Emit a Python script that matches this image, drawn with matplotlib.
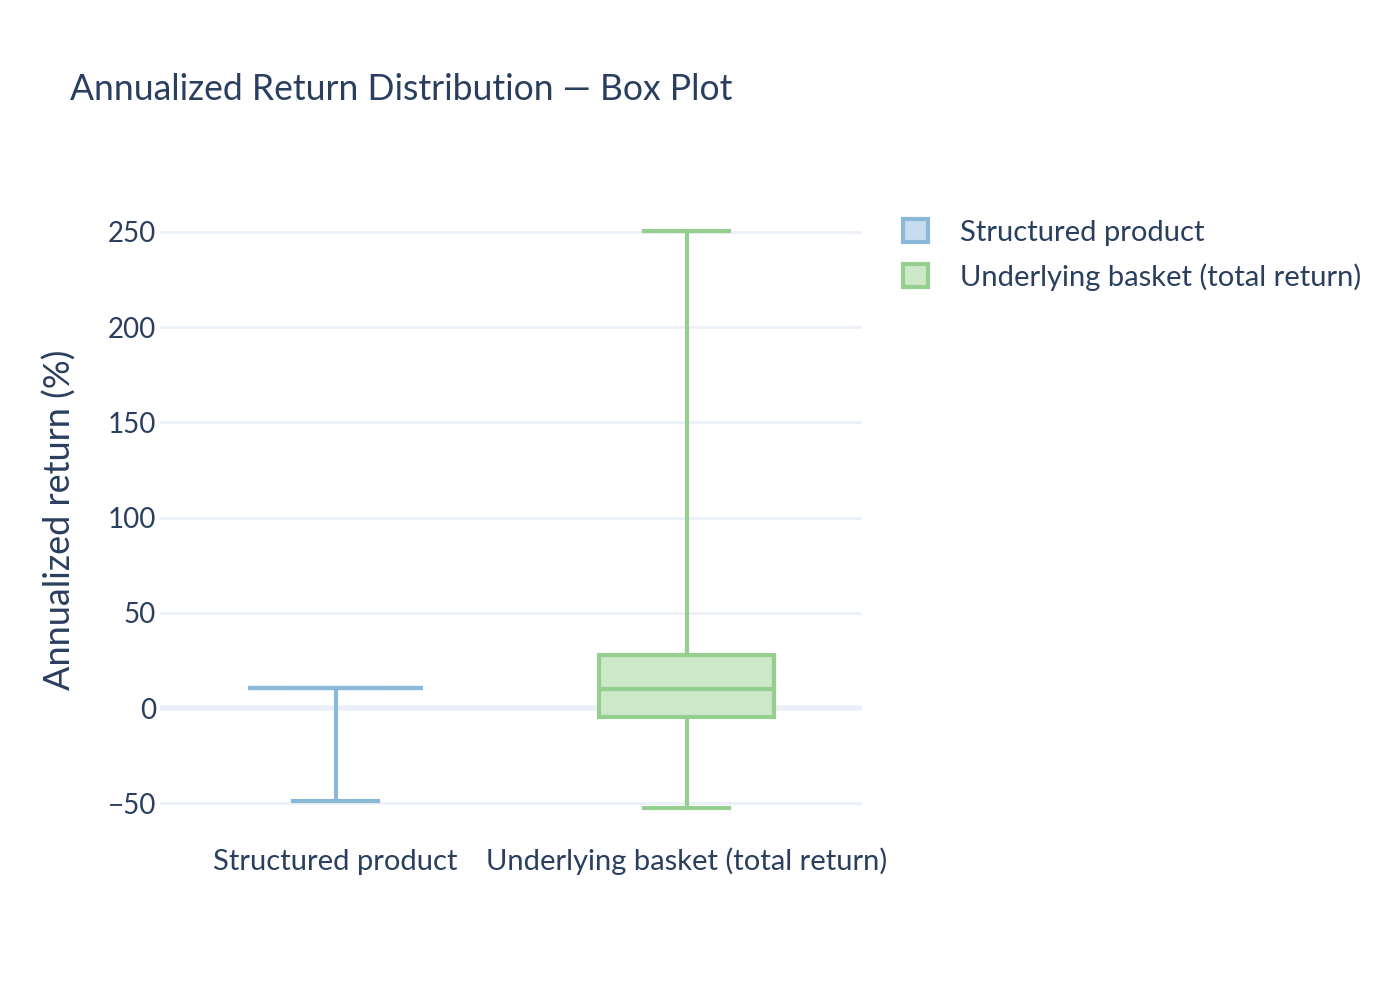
import matplotlib
matplotlib.use("Agg")
import matplotlib.pyplot as plt
from matplotlib.patches import Patch

plt.rcParams['font.family'] = ['Lato', 'DejaVu Sans']

categories = ["Structured product", "Underlying basket (total return)"]
mins = [-48.8, -52.4]
q1s = [10.7, -4.6]
medians = [10.7, 9.8]
q3s = [10.7, 27.8]
maxs = [10.7, 250.5]
line_colors = ["#8AB8D8", "#95CF8F"]
fill_colors = ["#C7DCEE", "#CCE8C9"]
yticks = [-50, 0, 50, 100, 150, 200, 250]

TXT = "#2a3f5f"
GRID = "#EBF0F8"

fig = plt.figure(figsize=(14, 10), dpi=100)
ax = fig.add_axes([160/1400, 160/1000, 702/1400, 640/1000])

for i, cat in enumerate(categories):
    stats = [dict(label=cat, whislo=mins[i], q1=q1s[i], med=medians[i],
                  q3=q3s[i], whishi=maxs[i], fliers=[])]
    ax.bxp(stats, positions=[i], widths=0.5, capwidths=0.245,
           patch_artist=True, showfliers=False,
           boxprops=dict(facecolor=fill_colors[i], edgecolor=line_colors[i], linewidth=3),
           medianprops=dict(color=line_colors[i], linewidth=3),
           whiskerprops=dict(color=line_colors[i], linewidth=3),
           capprops=dict(color=line_colors[i], linewidth=3), zorder=3)

ax.set_xlim(-0.5, 1.5)
ax.set_ylim(-69.3, 266.8)
ax.set_yticks(yticks)
ax.set_yticklabels([("\u2212" + str(-t)) if t < 0 else str(t) for t in yticks])
ax.set_xticks([0, 1])
ax.set_xticklabels(categories)
for s in ax.spines.values():
    s.set_visible(False)
ax.grid(axis='y', color=GRID, linewidth=2, zorder=0)
ax.axhline(0, color=GRID, linewidth=4, zorder=1)
ax.set_axisbelow(True)
ax.tick_params(axis='y', length=0, labelsize=20, colors=TXT, pad=3)
ax.tick_params(axis='x', length=0, labelsize=21, colors=TXT, pad=21.5)
for lbl in ax.get_xticklabels():
    lbl.set_va('baseline')
ax.set_ylabel("Annualized return (%)", fontsize=26, color=TXT, labelpad=22)

fig.text(70/1400, 1 - 89/1000, "Annualized Return Distribution \u2014 Box Plot",
         fontsize=25.6, color=TXT, va='center', ha='left')

handles = [Patch(facecolor=fill_colors[i], edgecolor=line_colors[i], linewidth=3, label=categories[i])
           for i in range(2)]
leg = fig.legend(handles=handles, loc='upper left', bbox_to_anchor=(903/1400, 1 - 219/1000),
                 frameon=False, fontsize=21, labelcolor=TXT, handlelength=0.85, handleheight=0.85,
                 handletextpad=1.1, labelspacing=0.6, borderaxespad=0, borderpad=0)

fig.savefig("out.png", dpi=100)
